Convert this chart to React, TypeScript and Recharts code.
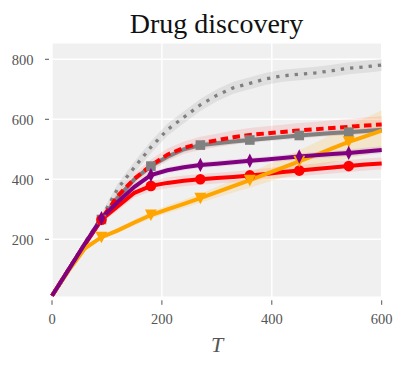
import React from 'react';
import { ComposedChart, Line, Area, XAxis, YAxis, CartesianGrid } from 'recharts';

// ---- data ----
const T_VALUES = [0, 30, 60, 90, 120, 150, 180, 210, 240, 270, 300, 330, 360, 390, 420, 450, 480, 510, 540, 570, 600];
const MARKER_T = [90, 180, 270, 360, 450, 540];

const dottedGray = [12, 100, 190, 272, 370, 440, 507, 565, 607, 648, 680, 705, 720, 735, 745, 750, 755, 762, 770, 775, 781];
const dashedRed = [12, 98, 185, 268, 345, 402, 446, 482, 505, 520, 530, 540, 548, 553, 558, 563, 567, 571, 575, 579, 583];
const squareGray = [12, 98, 185, 266, 340, 400, 444, 475, 500, 514, 520, 526, 531, 536, 541, 546, 550, 554, 557, 561, 565];
const diamondPurple = [12, 98, 185, 270, 325, 375, 414, 430, 440, 448, 452, 457, 462, 466, 471, 476, 480, 484, 488, 493, 498];
const circleRed = [12, 98, 183, 265, 310, 355, 378, 388, 395, 400, 404, 408, 413, 418, 424, 429, 434, 439, 444, 449, 453];
const triangleOrange = [12, 95, 170, 207, 230, 256, 281, 300, 318, 337, 357, 377, 397, 418, 439, 460, 481, 503, 525, 543, 562];

const dottedGraySd = [2, 6, 10, 14, 17, 19, 20, 20, 20, 20, 20, 20, 20, 20, 20, 20, 20, 20, 20, 20, 20];
const dashedRedSd = [2, 5, 8, 10, 14, 18, 20, 21, 21, 22, 22, 23, 23, 24, 24, 25, 25, 26, 26, 27, 27];
const squareGraySd = [2, 4, 6, 8, 9, 10, 10, 10, 10, 10, 10, 10, 10, 10, 10, 10, 10, 10, 10, 10, 10];
const diamondPurpleSd = [2, 4, 6, 8, 9, 10, 10, 10, 10, 10, 10, 10, 10, 10, 11, 11, 11, 11, 11, 12, 12];
const circleRedSd = [2, 5, 8, 10, 14, 16, 18, 18, 18, 18, 18, 18, 18, 19, 19, 19, 19, 20, 20, 20, 20];
const triangleOrangeSd = [2, 4, 5, 6, 8, 10, 12, 13, 14, 15, 18, 21, 25, 29, 33, 37, 42, 48, 55, 61, 68];

const X_TICKS = [0, 200, 400, 600];
const Y_TICKS = [200, 400, 600, 800];

const band = (v: number[], s: number[], i: number) => [v[i] - s[i], v[i] + s[i]];

const tableData = T_VALUES.map((t, i) => ({
  T: t,
  dottedGray: dottedGray[i],
  dashedRed: dashedRed[i],
  squareGray: squareGray[i],
  diamondPurple: diamondPurple[i],
  circleRed: circleRed[i],
  triangleOrange: triangleOrange[i],
  dottedGrayBand: band(dottedGray, dottedGraySd, i),
  dashedRedBand: band(dashedRed, dashedRedSd, i),
  squareGrayBand: band(squareGray, squareGraySd, i),
  diamondPurpleBand: band(diamondPurple, diamondPurpleSd, i),
  circleRedBand: band(circleRed, circleRedSd, i),
  triangleOrangeBand: band(triangleOrange, triangleOrangeSd, i),
}));

const GRAY = '#808080';
const RED = '#ff0000';
const PURPLE = '#800080';
const ORANGE = '#ffa500';
const FONT = '"Liberation Serif", serif';
const TEXT_GRAY = '#555555';

const renderMarker = (kind: string, color: string) => (props: any) => {
  const { cx, cy, payload, index } = props;
  const key = `${kind}-${index}`;
  if (cx == null || cy == null || !payload || !MARKER_T.includes(payload.T)) return <g key={key} />;
  if (kind === 'square') return <rect key={key} x={cx - 4.8} y={cy - 4.8} width={9.6} height={9.6} fill={color} />;
  if (kind === 'circle') return <circle key={key} cx={cx} cy={cy} r={5.3} fill={color} />;
  if (kind === 'diamond')
    return <polygon key={key} points={`${cx},${cy - 7.2} ${cx + 3.6},${cy} ${cx},${cy + 7.2} ${cx - 3.6},${cy}`} fill={color} />;
  return <polygon key={key} points={`${cx - 6},${cy - 5.5} ${cx + 6},${cy - 5.5} ${cx},${cy + 6}`} fill={color} />;
};

const YTick = (props: any) => {
  const { x, y, payload } = props;
  return (
    <g>
      <line x1={x - 7} x2={x - 3} y1={y} y2={y} stroke={TEXT_GRAY} strokeWidth={1} />
      <text x={x - 18.5} y={y + 5.5} textAnchor="end" fontFamily={FONT} style={{ fontFamily: FONT }} fontSize={14.5} fill={TEXT_GRAY}>
        {payload.value}
      </text>
    </g>
  );
};

const XTick = (props: any) => {
  const { x, y, payload } = props;
  return (
    <g>
      <line x1={x} x2={x} y1={y + 3} y2={y + 7.5} stroke={TEXT_GRAY} strokeWidth={1} />
      <text x={x} y={y + 27} textAnchor="middle" fontFamily={FONT} style={{ fontFamily: FONT }} fontSize={14.5} fill={TEXT_GRAY}>
        {payload.value}
      </text>
    </g>
  );
};

export default function App() {
  return (
    <div style={{ position: 'absolute', left: 0, top: 0, width: 408, height: 370, background: '#fff' }}>
      <ComposedChart
        width={408}
        height={370}
        data={tableData}
        margin={{ top: 42.7, right: 26.3, left: 0, bottom: 42.7 }}
      >
        <CartesianGrid fill="#f0f0f0" fillOpacity={1} stroke="#ffffff" strokeWidth={1.4} />
        <XAxis
          dataKey="T"
          type="number"
          domain={[0, 600]}
          ticks={X_TICKS}
          axisLine={false}
          tickLine={false}
          tickSize={0}
          tickMargin={0}
          height={30}
          tick={<XTick />}
          interval={0}
        />
        <YAxis
          type="number"
          domain={[6.7, 855.3]}
          ticks={Y_TICKS}
          axisLine={false}
          tickLine={false}
          tickSize={0}
          tickMargin={0}
          width={52}
          tick={<YTick />}
          interval={0}
          allowDataOverflow
        />
        <Area type="linear" dataKey="dottedGrayBand" stroke="none" fill={GRAY} fillOpacity={0.15} isAnimationActive={false} activeDot={false} />
        <Area type="linear" dataKey="squareGrayBand" stroke="none" fill={GRAY} fillOpacity={0.12} isAnimationActive={false} activeDot={false} />
        <Area type="linear" dataKey="dashedRedBand" stroke="none" fill={RED} fillOpacity={0.1} isAnimationActive={false} activeDot={false} />
        <Area type="linear" dataKey="circleRedBand" stroke="none" fill={RED} fillOpacity={0.1} isAnimationActive={false} activeDot={false} />
        <Area type="linear" dataKey="triangleOrangeBand" stroke="none" fill={ORANGE} fillOpacity={0.15} isAnimationActive={false} activeDot={false} />
        <Area type="linear" dataKey="diamondPurpleBand" stroke="none" fill={PURPLE} fillOpacity={0.1} isAnimationActive={false} activeDot={false} />

        <Line type="linear" dataKey="dottedGray" stroke={GRAY} strokeWidth={3.3} strokeDasharray="3.3 6" dot={false} activeDot={false} isAnimationActive={false} />
        <Line type="linear" dataKey="squareGray" stroke={GRAY} strokeWidth={4} dot={renderMarker('square', GRAY)} activeDot={false} isAnimationActive={false} />
        <Line type="linear" dataKey="dashedRed" stroke={RED} strokeWidth={4} strokeDasharray="7.5 4.5" dot={false} activeDot={false} isAnimationActive={false} />
        <Line type="linear" dataKey="circleRed" stroke={RED} strokeWidth={4} dot={renderMarker('circle', RED)} activeDot={false} isAnimationActive={false} />
        <Line type="linear" dataKey="triangleOrange" stroke={ORANGE} strokeWidth={4} dot={renderMarker('tri', ORANGE)} activeDot={false} isAnimationActive={false} />
        <Line type="linear" dataKey="diamondPurple" stroke={PURPLE} strokeWidth={4} dot={renderMarker('diamond', PURPLE)} activeDot={false} isAnimationActive={false} />
      </ComposedChart>
      <svg width={408} height={370} style={{ position: 'absolute', left: 0, top: 0, pointerEvents: 'none' }}>
        <text x={216.5} y={33} textAnchor="middle" fontFamily={FONT} fontSize={28} fill="#111">
          Drug discovery
        </text>
        <text x={217} y={351.7} textAnchor="middle" fontFamily={FONT} fontStyle="italic" fontSize={22} fill={TEXT_GRAY}>
          T
        </text>
      </svg>
    </div>
  );
}
